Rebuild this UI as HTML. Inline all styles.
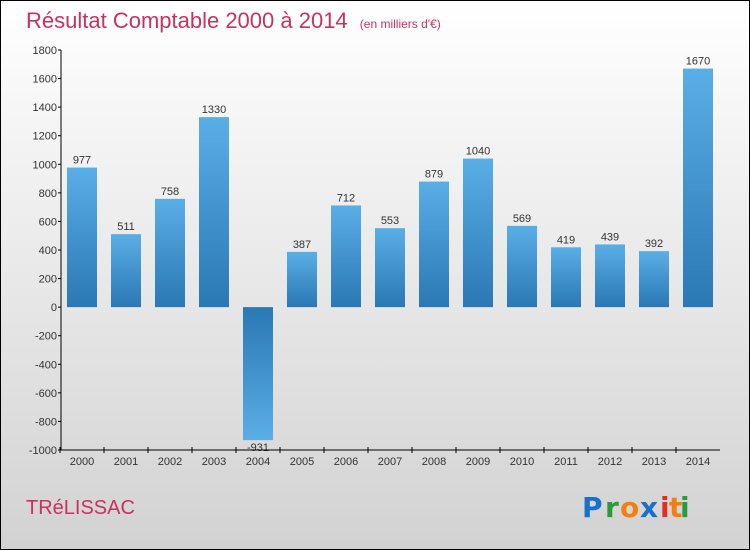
<!DOCTYPE html>
<html><head><meta charset="utf-8"><style>
body{margin:0;}
#wrap{position:relative;width:750px;height:550px;overflow:hidden;}
svg{display:block;font-family:"Liberation Sans",sans-serif;}
</style></head><body>
<div id="wrap">
<svg id="chart" width="750" height="550">
<defs>
<linearGradient id="bg" x1="0" y1="0" x2="0" y2="1"><stop offset="0" stop-color="#ffffff"/><stop offset="1" stop-color="#d2d2d2"/></linearGradient>
<linearGradient id="gpos" x1="0" y1="0" x2="0" y2="1"><stop offset="0" stop-color="#5aaee6"/><stop offset="1" stop-color="#2a78b4"/></linearGradient>
<linearGradient id="gneg" x1="0" y1="0" x2="0" y2="1"><stop offset="0" stop-color="#2a78b4"/><stop offset="1" stop-color="#5aaee6"/></linearGradient>
</defs>
<rect x="0.5" y="0.5" width="749" height="549" fill="url(#bg)" stroke="#000"/>
<text x="26" y="28" font-size="22" fill="#c8325f" font-weight="300">Résultat Comptable 2000 à 2014 <tspan font-size="12" dx="6">(en milliers d'€)</tspan></text>
<g id="yaxis"></g>
<g id="bars"></g>
<g id="xaxis"></g>
<text x="26" y="514" font-size="20" fill="#c8325f">TRéLISSAC</text>
<g font-size="28" font-weight="bold" font-family="'DejaVu Sans',sans-serif">
<text x="582" y="517" fill="#1a6fc8">P</text><text x="605" y="517" fill="#2a9a3a">r</text><text x="620" y="517" fill="#f08010">o</text><text x="640" y="517" fill="#1a6fc8">x</text><text x="660" y="517" fill="#e03020">i</text><text x="669" y="517" fill="#f08010">t</text><text x="680" y="517" fill="#2a9a3a">i</text>
</g>
</svg></div>
<script>
const years=["2000","2001","2002","2003","2004","2005","2006","2007","2008","2009","2010","2011","2012","2013","2014"];
const values=[977,511,758,1330,-931,387,712,553,879,1040,569,419,439,392,1670];
const yTicks=[1800,1600,1400,1200,1000,800,600,400,200,0,-200,-400,-600,-800,-1000];
const NS="http://www.w3.org/2000/svg";
const yMin=-1000,yMax=1800,plotTop=50,plotBot=450;
function y(v){return plotBot-(v-yMin)/(yMax-yMin)*(plotBot-plotTop);}
function x(i){return 82+i*44;}
function mk(t,a,p){const e=document.createElementNS(NS,t);for(const k in a)e.setAttribute(k,a[k]);p.appendChild(e);return e;}
const ya=document.getElementById('yaxis'),xa=document.getElementById('xaxis'),bg=document.getElementById('bars');
const yl=mk('line',{x1:61,y1:plotTop,x2:61,y2:plotBot,stroke:'#000'},ya);


yTicks.forEach(v=>{
 const t=mk('line',{x1:58,y1:y(v),x2:61,y2:y(v),stroke:'#000'},ya);
 
 
 const tx=mk('text',{x:57,y:y(v)+4,'text-anchor':'end','font-size':11,fill:'#333'},ya);
 tx.textContent=v;
 
 
});
values.forEach((v,i)=>{
 const y0=y(0),yv=y(v);
 const r=mk('rect',{x:x(i)-15,y:Math.min(y0,yv),width:30,height:Math.abs(yv-y0),fill:v>=0?'url(#gpos)':'url(#gneg)'},bg);
 
 
 const t=mk('text',{x:x(i),y:v>=0?yv-4:yv+11,'text-anchor':'middle','font-size':11,fill:'#333'},bg);
 t.textContent=v;
 
 
});
const xl=mk('line',{x1:61,y1:plotBot,x2:720,y2:plotBot,stroke:'#000'},xa);


years.forEach((yr,i)=>{
 const t=mk('line',{x1:x(i)-22,y1:plotBot-3,x2:x(i)-22,y2:plotBot+3,stroke:'#000'},xa);
 
 
 const tx=mk('text',{x:x(i),y:plotBot+15,'text-anchor':'middle','font-size':11,fill:'#333'},xa);
 tx.textContent=yr;
 
 
});
</script>
</body></html>
